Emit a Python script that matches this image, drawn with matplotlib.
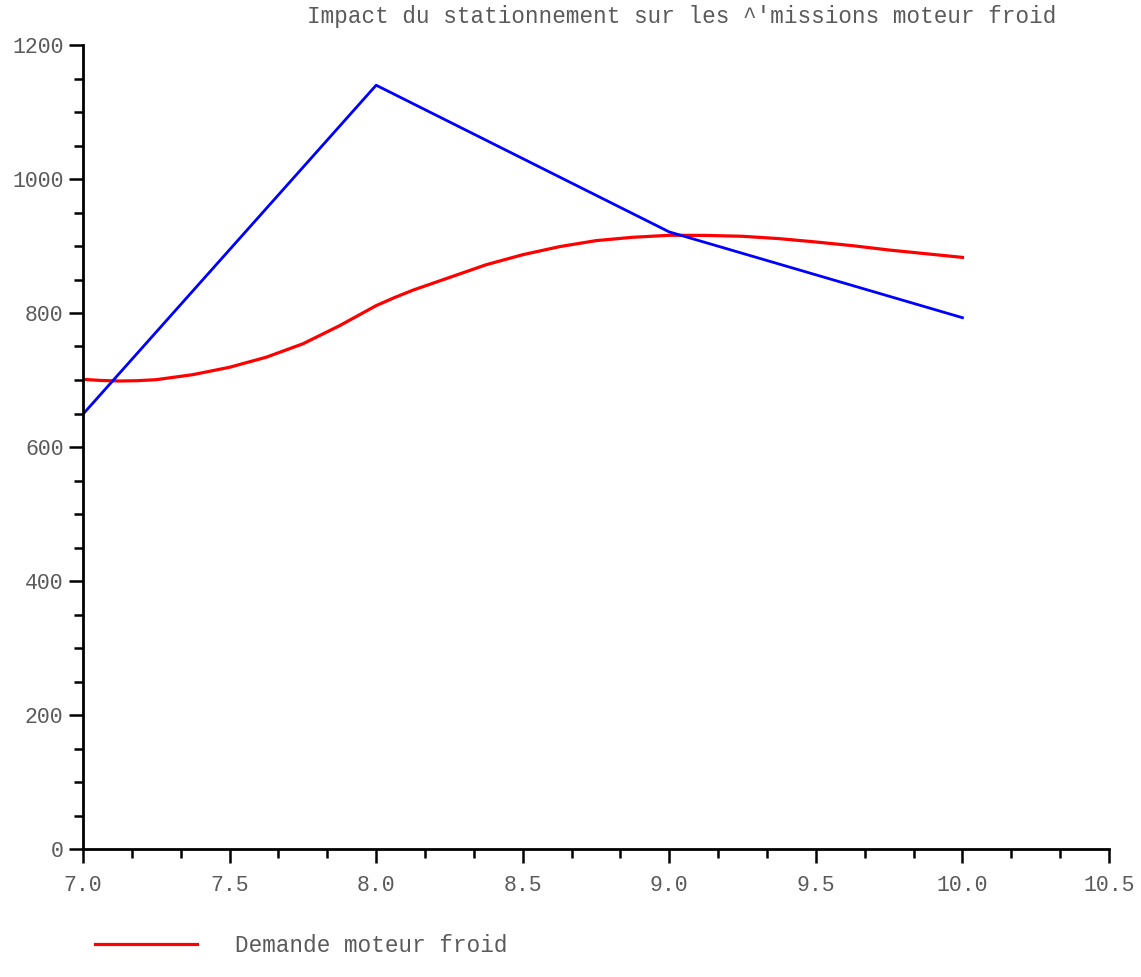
import matplotlib.pyplot as plt
from matplotlib.lines import Line2D
from matplotlib.ticker import MultipleLocator, AutoMinorLocator

# parking duration (x) vs cold-start figures
xDemande = [7.0, 7.0625, 7.125, 7.1875, 7.25, 7.375, 7.5, 7.625, 7.75, 7.875, 7.9375,
            8.0, 8.0625, 8.125, 8.25, 8.375, 8.5, 8.625, 8.75, 8.875, 9.0,
            9.125, 9.25, 9.375, 9.5, 9.625, 9.75, 9.875, 10.0]
yDemande = [701, 699.3, 698.5, 699, 700.5, 708, 719, 734, 754, 781, 796,
            811, 823, 834, 853, 872, 887, 899, 908, 913, 916,
            915.8, 914.5, 911, 906, 900.5, 894, 888.5, 883]

xEmissions = [7.0, 8.0, 9.0, 10.0]
yEmissions = [649, 1140, 921, 793]

title = "Impact du stationnement sur les ^'missions moteur froid"
labelDemande = "Demande moteur froid"

font = "Liberation Mono"
textColor = "#5a5a5a"

fig = plt.figure(figsize=(11.41, 9.77), dpi=100)
ax = fig.add_axes([83 / 1141, 128 / 977, 1026 / 1141, 804 / 977])

ax.plot(xDemande, yDemande, color="#ff0000", linewidth=2.3)
ax.plot(xEmissions, yEmissions, color="#0000ff", linewidth=2.0)

ax.set_xlim(7.0, 10.5)
ax.set_ylim(0, 1200)

# axes only on left and bottom
for side in ["top", "right"]:
    ax.spines[side].set_visible(False)
for side in ["left", "bottom"]:
    ax.spines[side].set_linewidth(2.0)

ax.xaxis.set_major_locator(MultipleLocator(0.5))
ax.xaxis.set_minor_locator(AutoMinorLocator(3))
ax.yaxis.set_major_locator(MultipleLocator(200))
ax.yaxis.set_minor_locator(AutoMinorLocator(4))
ax.xaxis.set_major_formatter(lambda v, pos: f"{v:.1f}")
ax.yaxis.set_major_formatter(lambda v, pos: f"{v:.0f}")

ax.tick_params(which="major", length=10, width=1.8, direction="out",
               labelsize=15.5, labelcolor=textColor)
ax.tick_params(which="minor", length=6.5, width=1.8, direction="out")
ax.tick_params(axis="x", which="major", pad=9)
ax.tick_params(axis="y", which="major", pad=4)
for lab in ax.get_xticklabels() + ax.get_yticklabels():
    lab.set_fontfamily(font)

fig.text(682 / 1141, 1 - 17 / 977, title, ha="center", va="center",
         fontsize=16.3, family=font, color=textColor)

# legend drawn below the plot
fig.add_artist(Line2D([95 / 1141, 197 / 1141], [1 - 944 / 977] * 2,
                      color="#ff0000", linewidth=2.3))
fig.text(235 / 1141, 1 - 945 / 977, labelDemande, ha="left", va="center",
         fontsize=16.3, family=font, color=textColor)
fig.add_artist(Line2D([95 / 1141, 197 / 1141], [1 - 979 / 977] * 2,
                      color="#0000ff", linewidth=2.0, alpha=0.3))

fig.savefig("out.png", dpi=100)
